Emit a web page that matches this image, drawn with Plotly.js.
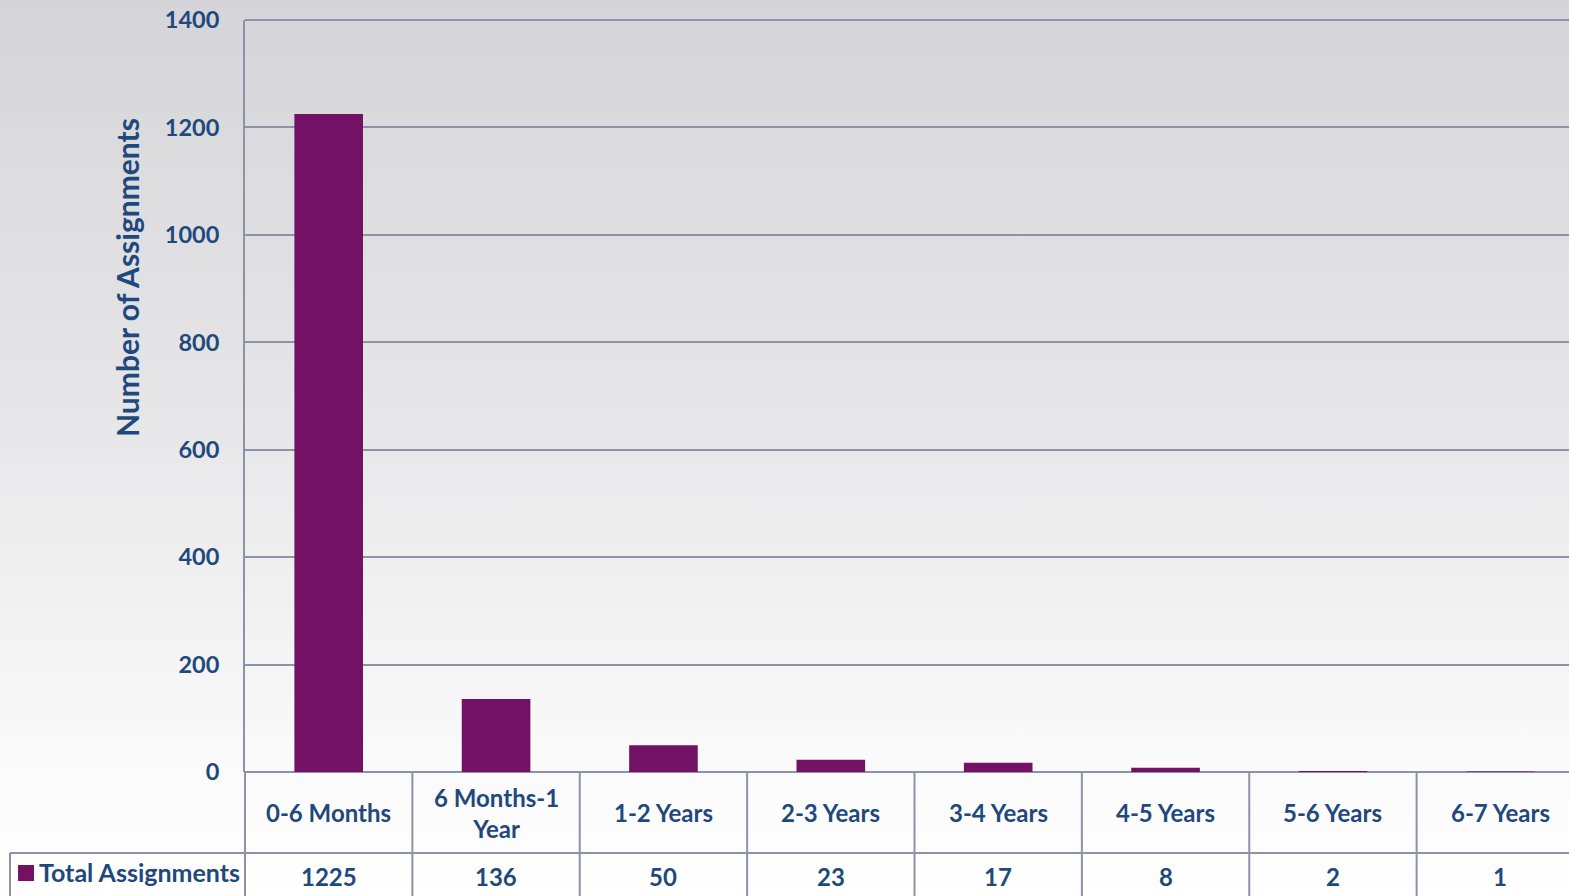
<!DOCTYPE html>
<html>
<head>
<meta charset="utf-8">
<script src="https://cdn.plot.ly/plotly-3.0.1.min.js"></script>
<style>
html, body { margin:0; padding:0; width:1569px; height:896px; overflow:hidden;
  background: linear-gradient(to bottom, #D5D4D8 0%, #E6E6E8 45%, #FAFAFA 85%, #FFFFFF 100%); }
#chart { width:1600px; height:896px; }
</style>
</head>
<body>
<div id="chart"></div>
<script>
// ---- data ----
const categories = ['0-6 Months','6 Months-1 Year','1-2 Years','2-3 Years','3-4 Years','4-5 Years','5-6 Years','6-7 Years'];
const categoryLabels = ['0-6 Months','6 Months-1<br>Year','1-2 Years','2-3 Years','3-4 Years','4-5 Years','5-6 Years','6-7 Years'];
const seriesName = 'Total Assignments';
const totalAssignments = [1225, 136, 50, 23, 17, 8, 2, 1];
const yTickValues = [0, 200, 400, 600, 800, 1000, 1200, 1400];
const yTitle = 'Number of Assignments';

// ---- style ----
const TEXT = '#1F497D';
const GRID = '#8C93A8';
const BAR = '#731264';
const FONT = 'Lato, "Open Sans", sans-serif';

// table geometry (paper coords)
const rowY = -0.1077;      // line between category row and value row
const bottomY = -0.2;
const legendLeftX = -0.1755;

const shapes = [];
const n = categories.length;
for (let i = 0; i <= n; i++) {
  shapes.push({type:'line', xref:'paper', yref:'paper', x0:i/n, x1:i/n, y0:0, y1:bottomY,
    line:{color:GRID, width:2}});
}
// top border of plot area
shapes.push({type:'line', xref:'paper', yref:'paper', x0:0, x1:1, y0:1, y1:1, line:{color:GRID, width:2}});
shapes.push({type:'line', xref:'paper', yref:'paper', x0:legendLeftX, x1:1, y0:rowY, y1:rowY, line:{color:GRID, width:2}});
shapes.push({type:'line', xref:'paper', yref:'paper', x0:legendLeftX, x1:legendLeftX, y0:rowY, y1:bottomY, line:{color:GRID, width:2}});
// legend key square
shapes.push({type:'rect', xref:'paper', yref:'paper', x0:-0.1695, x1:-0.1576, y0:-0.145, y1:-0.1237,
  line:{width:0}, fillcolor:BAR});

const annotations = [];
categories.forEach((c, i) => {
  annotations.push({xref:'x', yref:'paper', x:c, y:-0.0545, text:categoryLabels[i], showarrow:false,
    xanchor:'center', yanchor:'middle', font:{family:FONT, size:24, color:TEXT, weight:'bold'}});
  annotations.push({xref:'x', yref:'paper', x:c, y:-0.1383, text:String(totalAssignments[i]), showarrow:false,
    xanchor:'center', yanchor:'middle', font:{family:FONT, size:24, color:TEXT, weight:'bold'}});
});
annotations.push({xref:'paper', yref:'paper', x:(37-245)/1339, y:-0.1330, text:seriesName, showarrow:false,
  xanchor:'left', yanchor:'middle', font:{family:FONT, size:25, color:TEXT, weight:'bold'}});
annotations.push({xref:'paper', yref:'paper', x:(127-245)/1339, y:(772-277)/752, text:yTitle, showarrow:false,
  textangle:-90, xanchor:'center', yanchor:'middle', font:{family:FONT, size:30, color:TEXT, weight:'bold'}});

const trace = {
  type:'bar', x:categories, y:totalAssignments, name:seriesName,
  marker:{color:BAR, line:{width:0}}, hoverinfo:'x+y'
};

const layout = {
  width:1600, height:896,
  margin:{l:245, r:16, t:20, b:124},
  paper_bgcolor:'rgba(0,0,0,0)', plot_bgcolor:'rgba(0,0,0,0)',
  showlegend:false, bargap:0.59,
  font:{family:FONT, color:TEXT},
  xaxis:{type:'category', range:[-0.5, n-0.5], showticklabels:false, showgrid:false, zeroline:false,
    showline:false, ticks:''},
  yaxis:{range:[0,1400], tickvals:yTickValues, ticktext:yTickValues.map(String), showgrid:true, gridcolor:GRID, gridwidth:2,
    zeroline:true, zerolinecolor:GRID, zerolinewidth:2, showline:true, linecolor:GRID, linewidth:2,
    ticks:'', ticklabelstandoff:19, tickfont:{family:FONT, size:23.5, color:TEXT, weight:'bold'}},
  shapes:shapes, annotations:annotations
};

Plotly.newPlot('chart', [trace], layout, {displayModeBar:false, staticPlot:true});
</script>
</body>
</html>
